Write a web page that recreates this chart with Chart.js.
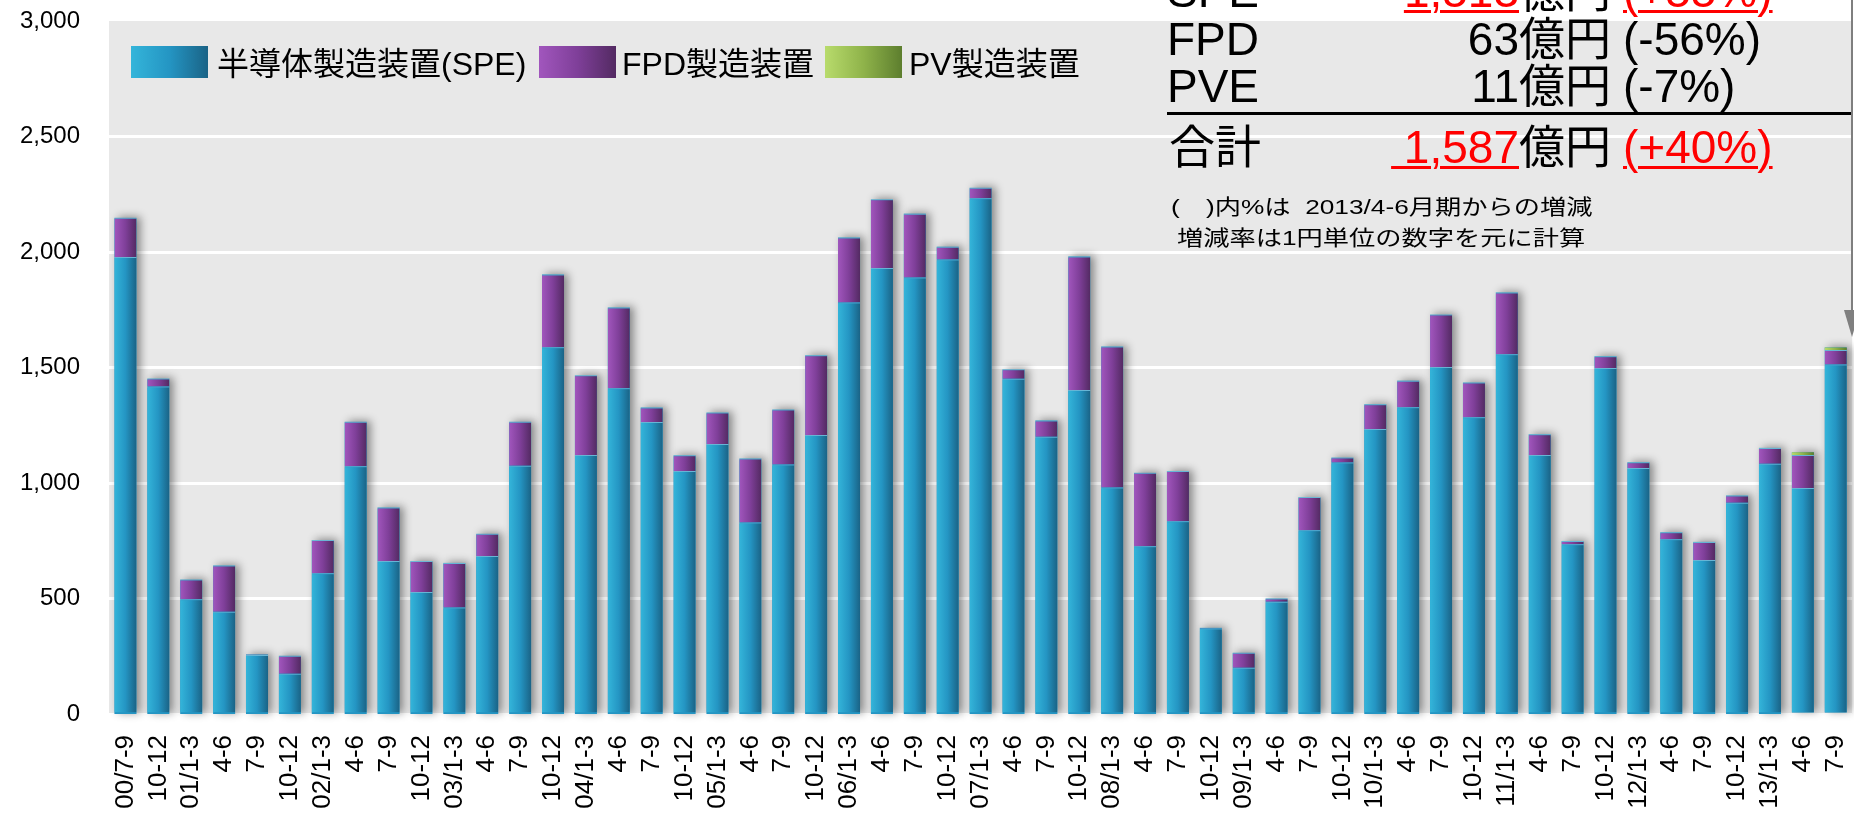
<!DOCTYPE html>
<html>
<head>
<meta charset="utf-8">
<script src="https://cdn.jsdelivr.net/npm/chart.js@4.4.1/dist/chart.umd.min.js"></script>
<style>
html,body{margin:0;padding:0;background:#fff;overflow:hidden;width:1854px;height:813px;}
#wrap{position:relative;width:1854px;height:813px;overflow:hidden;background:#fff;}
#c{position:absolute;left:0;top:0;}
.t{position:absolute;white-space:pre;line-height:1;font-family:"Liberation Sans",Arial,"Noto Sans CJK JP",sans-serif;color:#000;}
.box{position:absolute;width:77px;height:32px;}
</style>
</head>
<body>
<div id="wrap"><canvas id="c" width="1880" height="813"></canvas></div>
<script>
// ---- data ----
const categories = [
  "00/7-9","10-12",
  "01/1-3","4-6","7-9","10-12",
  "02/1-3","4-6","7-9","10-12",
  "03/1-3","4-6","7-9","10-12",
  "04/1-3","4-6","7-9","10-12",
  "05/1-3","4-6","7-9","10-12",
  "06/1-3","4-6","7-9","10-12",
  "07/1-3","4-6","7-9","10-12",
  "08/1-3","4-6","7-9","10-12",
  "09/1-3","4-6","7-9","10-12",
  "10/1-3","4-6","7-9","10-12",
  "11/1-3","4-6","7-9","10-12",
  "12/1-3","4-6","7-9","10-12",
  "13/1-3","4-6","7-9"
];
const speValues = [
  1978,1418,
  497,443,255,174,
  609,1072,662,528,
  461,684,1075,1588,
  1121,1410,1264,1052,
  1169,829,1080,1208,
  1781,1931,1890,1968,
  2233,1451,1200,1403,
  981,726,834,370,
  200,486,795,1089,
  1234,1328,1502,1285,
  1557,1121,735,1498,
  1065,756,667,914,
  1083,978,1513
];
const fpdValues = [
  170,34,
  85,200,3,78,
  144,193,232,134,
  193,96,190,315,
  345,350,63,68,
  136,277,238,345,
  282,297,276,55,
  45,41,71,578,
  610,318,218,3,
  65,14,144,21,
  107,115,227,150,
  268,90,14,51,
  25,31,78,32,
  69,143,63
];
const pvValues = [
  null,null,
  null,null,null,null,
  null,null,null,null,
  null,null,null,null,
  null,null,null,null,
  null,null,null,null,
  null,null,null,null,
  null,null,null,null,
  null,null,null,null,
  null,null,null,null,
  null,null,null,null,
  null,null,null,null,
  null,null,null,null,
  null,12,11
];
const yTickValues = [0,500,1000,1500,2000,2500,3000];
const seriesNames = ["半導体製造装置(SPE)","FPD製造装置","PV製造装置"];

// ---- styles ----
const FONT = '"Liberation Sans", Arial, "Noto Sans CJK JP", sans-serif';
const speStops = ['#34b5da','#2495c3','#1a6386'];
const fpdStops = ['#a156bd','#7f3f99','#532a62'];
const pvStops  = ['#b8db6c','#8fb34a','#5d7e2e'];
const barPct = 0.67;

Chart.defaults.font.family = FONT;

function barGradient(stops){
  return (ctx) => {
    const chart = ctx.chart;
    const xs = chart.scales && chart.scales.x;
    if (!xs || ctx.type !== 'data' || !xs.width) return stops[1];
    const cw = xs.width / categories.length;
    const bw = cw * barPct;
    const cx = xs.getPixelForValue(ctx.dataIndex);
    const g = chart.ctx.createLinearGradient(cx - bw/2, 0, cx + bw/2, 0);
    g.addColorStop(0, stops[0]);
    g.addColorStop(0.5, stops[1]);
    g.addColorStop(1, stops[2]);
    return g;
  };
}

const bgPlugin = {
  id: 'plotBg',
  beforeDraw(chart){
    const {ctx, chartArea:a} = chart;
    ctx.save();
    ctx.fillStyle = '#e8e8e8';
    ctx.fillRect(a.left, a.top, a.right - a.left, a.bottom - a.top);
    ctx.restore();
  }
};

const shadowPlugin = {
  id: 'barShadow',
  beforeDatasetsDraw(chart){
    const ctx = chart.ctx;
    const metas = chart.getSortedVisibleDatasetMetas();
    ctx.save();
    ctx.shadowColor = 'rgba(0,0,0,0.42)';
    ctx.shadowBlur = 8;
    ctx.shadowOffsetX = 4;
    ctx.shadowOffsetY = -1;
    ctx.fillStyle = '#2495c3';
    for (let i = 0; i < categories.length; i++){
      let top = Infinity, bottom = -Infinity, x = null, w = null;
      metas.forEach(m => {
        const el = m.data[i];
        if (!el) return;
        const p = el.getProps(['x','y','base','width'], true);
        if (p.y == null || isNaN(p.y) || isNaN(p.base)) return;
        top = Math.min(top, p.y, p.base);
        bottom = Math.max(bottom, p.y, p.base);
        x = p.x; w = p.width;
      });
      if (x === null || !isFinite(top)) continue;
      ctx.fillRect(x - w/2, top, w, bottom - top);
    }
    ctx.restore();
  }
};

new Chart(document.getElementById('c'), {
  type: 'bar',
  data: {
    labels: categories,
    datasets: [
      {label: seriesNames[0], data: speValues, backgroundColor: barGradient(speStops),
       borderWidth: {top:1,left:0,right:0,bottom:0}, borderColor: 'rgba(255,255,255,0.3)', borderSkipped: false},
      {label: seriesNames[1], data: fpdValues, backgroundColor: barGradient(fpdStops),
       borderWidth: {top:1,left:0,right:0,bottom:0}, borderColor: 'rgba(255,255,255,0.3)', borderSkipped: false},
      {label: seriesNames[2], data: pvValues, backgroundColor: barGradient(pvStops), borderWidth: 0}
    ]
  },
  options: {
    responsive: false,
    animation: false,
    devicePixelRatio: 1,
    layout: {padding: {top: 21, right: 6, left: 0, bottom: 0}},
    plugins: {legend: {display: false}, tooltip: {enabled: false}},
    datasets: {bar: {barPercentage: barPct, categoryPercentage: 1}},
    scales: {
      x: {
        stacked: true,
        offset: true,
        grid: {display: false},
        border: {display: false},
        ticks: {autoSkip: false, maxRotation: 90, minRotation: 90, padding: 13, color: '#000',
                font: {family: FONT, size: 26}},
        afterFit(s){ s.height = 99; }
      },
      y: {
        stacked: true,
        min: 0, max: 3000,
        grid: {color: (c) => (c.tick && c.tick.value === 3000) ? 'rgba(0,0,0,0)' : '#ffffff', lineWidth: 3, drawTicks: false},
        border: {display: false},
        ticks: {padding: 29, color: '#000', font: {family: FONT, size: 24},
                callback: (v) => Number(v).toLocaleString('en-US')},
        afterBuildTicks(s){ s.ticks = yTickValues.map(v => ({value: v})); },
        afterFit(s){ s.width = 109; s.paddingTop = 12; s.paddingBottom = 12; }
      }
    }
  },
  plugins: [bgPlugin, shadowPlugin]
});

// ---- overlay: legend, summary text, arrow ----
const wrap = document.getElementById('wrap');
function addText(txt, x, baseline, size, opts){
  opts = opts || {};
  const d = document.createElement('div');
  d.className = 't';
  d.textContent = txt;
  d.style.fontSize = size + 'px';
  d.style.top = (baseline - 0.8465 * size) + 'px';
  d.style.left = x + 'px';
  const tf = [];
  if (opts.align === 'right') tf.push('translateX(-100%)');
  if (opts.scaleX) { tf.push('scaleX(' + opts.scaleX + ')'); d.style.transformOrigin = '0 0'; }
  if (tf.length) d.style.transform = tf.join(' ');
  if (opts.color) d.style.color = opts.color;
  if (opts.underline){
    d.style.textDecoration = 'underline';
    d.style.textDecorationThickness = '3px';
    d.style.textUnderlineOffset = '3px';
    d.style.textDecorationColor = opts.color || '#000';
  }
  wrap.appendChild(d);
  return d;
}
function addBox(x, y, stops){
  const b = document.createElement('div');
  b.className = 'box';
  b.style.left = x + 'px';
  b.style.top = y + 'px';
  b.style.background = 'linear-gradient(to right,' + stops[0] + ',' + stops[1] + ' 50%,' + stops[2] + ')';
  wrap.appendChild(b);
}

// legend (inside plot, top-left)
addBox(131, 46, speStops);
addText(seriesNames[0], 217, 75, 32);
addBox(539, 46, fpdStops);
addText(seriesNames[1], 622, 75, 32);
addBox(825, 46, pvStops);
addText(seriesNames[2], 909, 75, 32);

// summary block (top-right)
const RED = '#ff0000';
addText('SPE', 1167, 7, 46);
addText('1,513', 1519, 7, 46, {align:'right', color:RED, underline:true});
addText('億円', 1519, 7, 46);
addText('(+55%)', 1623, 7, 46, {color:RED, underline:true});

addText('FPD', 1167, 55, 46);
addText('63', 1519, 55, 46, {align:'right'});
addText('億円', 1519, 55, 46);
addText('(-56%)', 1623, 55, 46);

addText('PVE', 1167, 102, 46);
addText('11', 1519, 102, 46, {align:'right'});
addText('億円', 1519, 102, 46);
addText('(-7%)', 1623, 102, 46);

const rule = document.createElement('div');
rule.style.cssText = 'position:absolute;left:1167px;top:112px;width:684px;height:3px;background:#000;';
wrap.appendChild(rule);

addText('合計', 1169, 163, 46);
addText(' 1,587', 1519, 163, 46, {align:'right', color:RED, underline:true});
addText('億円', 1519, 163, 46);
addText('(+40%)', 1623, 163, 46, {color:RED, underline:true});

addText('(\u3000)内%は  2013/4-6月期からの増減', 1171, 214, 21, {scaleX:1.25});
addText('増減率は1円単位の数字を元に計算', 1177, 245, 21, {scaleX:1.25});

// arrow pointing to latest bar
const line = document.createElement('div');
line.style.cssText = 'position:absolute;left:1851px;top:0;width:2px;height:312px;background:#7f7f7f;';
wrap.appendChild(line);
const head = document.createElement('div');
head.style.cssText = 'position:absolute;left:1844px;top:310px;width:0;height:0;border-left:8px solid transparent;border-right:8px solid transparent;border-top:27px solid #7f7f7f;';
wrap.appendChild(head);
</script>
</body>
</html>
